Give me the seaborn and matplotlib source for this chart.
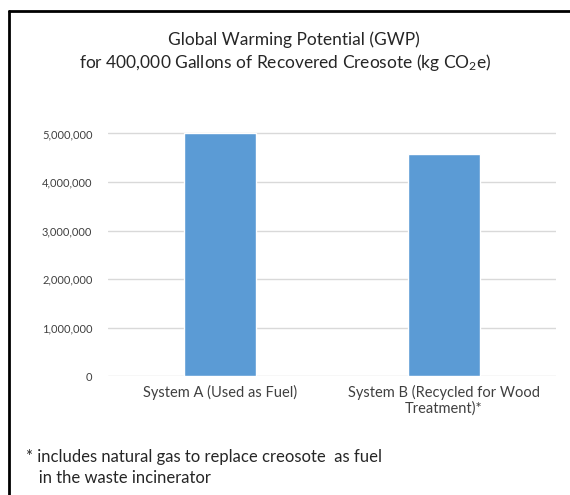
import matplotlib
matplotlib.use("Agg")
import matplotlib.pyplot as plt
import seaborn as sns
import pandas as pd
from matplotlib.lines import Line2D

# data
systems = ["System A (Used as Fuel)", "System B (Recycled for Wood\nTreatment)*"]
gwp = [5010000, 4580000]
y_ticks = [0, 1000000, 2000000, 3000000, 4000000, 5000000]

df = pd.DataFrame({"system": systems, "gwp": gwp})

sns.set_style("white")
plt.rcParams["font.family"] = ["Lato", "DejaVu Sans"]
plt.rcParams["mathtext.fontset"] = "custom"
plt.rcParams["mathtext.rm"] = "Lato"

fig = plt.figure(figsize=(5.7, 4.95), dpi=100)
ax = fig.add_axes([0.189, 0.24, 0.786, 0.51])

sns.barplot(data=df, x="system", y="gwp", color="#5b9bd5", width=0.32,
            saturation=1, ax=ax, zorder=3)

ax.set_ylim(0, 5200000)
ax.set_yticks(y_ticks)
ax.set_yticklabels([f"{v:,}" for v in y_ticks], fontsize=8, color="#404040")
ax.tick_params(axis="x", labelsize=10.5, labelcolor="#404040", length=0, pad=6)
ax.tick_params(axis="y", length=0, pad=11)
ax.set_xlabel("")
ax.set_ylabel("")
ax.yaxis.grid(True, color="#d9d9d9", linewidth=1, zorder=0)
for s in ax.spines.values():
    s.set_visible(False)

fig.text(0.515, 0.919, "Global Warming Potential (GWP)", ha="center", va="center",
         fontsize=12.5, color="#262626")
fig.text(0.5, 0.873, r"for 400,000 Gallons of Recovered Creosote (kg CO$\mathregular{_2}$e)",
         ha="center", va="center", fontsize=12.5, color="#262626")

fig.text(0.045, 0.056, "* includes natural gas to replace creosote  as fuel\n   in the waste incinerator",
         ha="left", va="center", fontsize=12, color="#262626", linespacing=1.35)

# frame from the screenshot: top and left edges only
fig.add_artist(Line2D([0.016, 1.0], [0.978, 0.978], transform=fig.transFigure,
                      color="black", linewidth=2))
fig.add_artist(Line2D([0.016, 0.016], [0.0, 0.978], transform=fig.transFigure,
                      color="black", linewidth=2))

fig.savefig("out.png", dpi=100)
